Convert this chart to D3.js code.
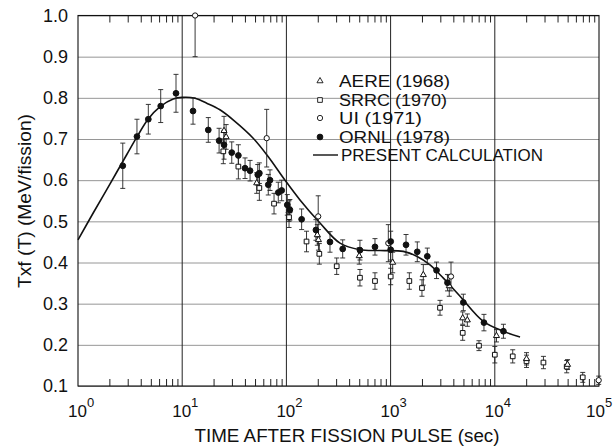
<!DOCTYPE html>
<html>
<head>
<meta charset="utf-8">
<script src="https://cdn.jsdelivr.net/npm/d3@7"></script>
<style>
  body { margin: 0; background: #fff; }
  text { font-family: "Liberation Sans", Arial, sans-serif; fill: #111; }
</style>
</head>
<body>
<svg id="chart" width="615" height="448"></svg>
<script>
// [time (s), Txf(T) MeV/fission, error]
var ornl = [
  [2.69, 0.635, 0.055], [3.68, 0.706, 0.042], [4.73, 0.748, 0.036], [6.22, 0.780, 0.040],
  [8.72, 0.811, 0.046], [12.7, 0.768, 0.032], [17.8, 0.722, 0.030], [22.6, 0.696, 0.030],
  [25.2, 0.686, 0.035], [29.9, 0.667, 0.026], [34.6, 0.660, 0.026], [40.1, 0.629, 0.025],
  [44.8, 0.623, 0.025], [53.1, 0.613, 0.025], [55.0, 0.617, 0.025], [67.0, 0.589, 0.025],
  [69.6, 0.600, 0.025], [83.6, 0.570, 0.025], [90.1, 0.575, 0.025], [102, 0.540, 0.025],
  [108, 0.528, 0.025], [140, 0.505, 0.025], [192, 0.479, 0.025], [262, 0.450, 0.025],
  [347, 0.433, 0.022], [508, 0.430, 0.024], [708, 0.438, 0.020], [1002, 0.451, 0.025],
  [1002, 0.431, 0.025], [1406, 0.443, 0.025], [1803, 0.426, 0.024], [2250, 0.415, 0.020],
  [2760, 0.381, 0.020], [3515, 0.351, 0.020], [4990, 0.303, 0.020], [7870, 0.254, 0.020],
  [12100, 0.233, 0.017]
];
var aere = [
  [25.2, 0.720, 0.035], [26.4, 0.705, 0.030], [51.9, 0.593, 0.025], [106, 0.525, 0.025],
  [198, 0.467, 0.025], [203, 0.455, 0.025], [500, 0.416, 0.020], [1047, 0.400, 0.025],
  [2060, 0.370, 0.025], [3656, 0.343, 0.025], [4920, 0.265, 0.015], [5450, 0.260, 0.015],
  [10380, 0.222, 0.015], [20150, 0.166, 0.015], [49900, 0.152, 0.012]
];
var srrc = [
  [24.8, 0.670, 0.030], [34.6, 0.633, 0.030], [55.0, 0.581, 0.030], [76.1, 0.543, 0.025],
  [106, 0.510, 0.025], [156, 0.451, 0.025], [207, 0.421, 0.025], [304, 0.391, 0.020],
  [508, 0.363, 0.020], [708, 0.355, 0.020], [1002, 0.366, 0.020], [1513, 0.355, 0.020],
  [2000, 0.338, 0.020], [2980, 0.290, 0.018], [4920, 0.229, 0.018], [7050, 0.198, 0.012],
  [10000, 0.176, 0.020], [14860, 0.172, 0.016], [20150, 0.160, 0.015], [29300, 0.157, 0.015],
  [49000, 0.147, 0.015], [69800, 0.121, 0.012]
];
var ui = [
  [13.3, 1.000, 0.100], [64.7, 0.702, 0.070], [202, 0.512, 0.050], [951, 0.447, 0.045],
  [3800, 0.366, 0.035], [99300, 0.114, 0.010]
];
// present calculation
var calcT = [1, 1.39, 2.03, 2.95, 3.68, 4.7, 6.1, 8.2, 10, 13.3, 17.2, 23, 31, 48, 67, 97, 135,
  210, 327, 508, 791, 1324, 1780, 2390, 3210, 4640, 7760, 12080, 17460];
var calcV = [0.455, 0.519, 0.591, 0.663, 0.705, 0.748, 0.778, 0.797, 0.801, 0.799, 0.787, 0.771, 0.746,
  0.702, 0.657, 0.60, 0.552, 0.496, 0.447, 0.431, 0.429, 0.427, 0.415, 0.394, 0.362, 0.318,
  0.257, 0.233, 0.219];
var yTicks = [0.1, 0.2, 0.3, 0.4, 0.5, 0.6, 0.7, 0.8, 0.9, 1.0];
var decades = [0, 1, 2, 3, 4, 5];
var legendLabels = ["AERE (1968)", "SRRC (1970)", "UI (1971)", "ORNL (1978)", "PRESENT CALCULATION"];

var svg = d3.select("#chart"),
    margin = {top: 15.5, right: 16, bottom: 62, left: 78},
    width = +svg.attr("width") - margin.left - margin.right,
    height = +svg.attr("height") - margin.top - margin.bottom;

var x = d3.scaleLog().domain([1, 1e5]).range([0, width]);
var y = d3.scaleLinear().domain([0.1, 1.0]).range([height, 0]).clamp(true);

var g = svg.append("g")
    .attr("transform", "translate(" + margin.left + "," + margin.top + ")");

// horizontal grid + y labels
var yAxis = g.append("g")
    .call(d3.axisLeft(y).tickValues(yTicks).tickSize(-width).tickPadding(10).tickFormat(d3.format(".1f")));
yAxis.select(".domain").remove();
yAxis.selectAll("line").attr("stroke", "#8a8a8a").attr("stroke-width", 0.9);
yAxis.selectAll("text").style("font-size", "18px").attr("fill", "#111");

// decade lines
g.selectAll(".decade")
    .data(decades.slice(1, 5))
    .enter().append("line")
    .attr("class", "decade")
    .attr("x1", function(d) { return x(Math.pow(10, d)); })
    .attr("x2", function(d) { return x(Math.pow(10, d)); })
    .attr("y1", 0).attr("y2", height)
    .attr("stroke", "#222").attr("stroke-width", 1);

// minor ticks top and bottom
var minors = x.ticks().filter(function(d) { return Math.abs(Math.log10(d) % 1) > 1e-6; });
var botAx = g.append("g").attr("transform", "translate(0," + height + ")")
    .call(d3.axisBottom(x).tickValues(minors).tickSize(-7).tickFormat(""));
var topAx = g.append("g")
    .call(d3.axisTop(x).tickValues(minors).tickSize(-7).tickFormat(""));
botAx.select(".domain").remove();
topAx.select(".domain").remove();
botAx.selectAll("line").attr("stroke", "#222");
topAx.selectAll("line").attr("stroke", "#222");

// frame
g.append("rect").attr("width", width).attr("height", height)
    .attr("fill", "none").attr("stroke", "#111").attr("stroke-width", 1.1);

// decade labels
var dl = g.selectAll(".dlab").data(decades).enter().append("text")
    .attr("x", function(d) { return x(Math.pow(10, d)) - (d == 5 ? 13 : 10); })
    .attr("y", height + 31)
    .style("font-size", "17px");
dl.append("tspan").text("10");
dl.append("tspan").attr("dy", -10).style("font-size", "13px").text(function(d) { return d; });

// calculation curve
var line = d3.line()
    .x(function(d, i) { return x(calcT[i]); })
    .y(function(d) { return y(d); })
    .curve(d3.curveCatmullRom);
g.append("path").datum(calcV)
    .attr("d", line)
    .attr("fill", "none").attr("stroke", "#111").attr("stroke-width", 1.6);

// error bars
function errBars(data) {
  var eb = g.append("g").selectAll("g").data(data).enter().append("g")
      .attr("stroke", "#222").attr("stroke-width", 0.9);
  eb.append("line")
      .attr("x1", function(d) { return x(d[0]); }).attr("x2", function(d) { return x(d[0]); })
      .attr("y1", function(d) { return y(d[1] - d[2]); }).attr("y2", function(d) { return y(d[1] + d[2]); });
  [-1, 1].forEach(function(s) {
    eb.append("line")
        .attr("x1", function(d) { return x(d[0]) - 2.5; }).attr("x2", function(d) { return x(d[0]) + 2.5; })
        .attr("y1", function(d) { return y(d[1] + s * d[2]); }).attr("y2", function(d) { return y(d[1] + s * d[2]); });
  });
}
errBars(srrc); errBars(aere); errBars(ui); errBars(ornl);

var sym = {
  aere: d3.symbol().type(d3.symbolTriangle).size(16),
  srrc: d3.symbol().type(d3.symbolSquare).size(22),
  ui: d3.symbol().type(d3.symbolCircle).size(22),
  ornl: d3.symbol().type(d3.symbolCircle).size(26)
};
function points(data, s, filled) {
  g.append("g").selectAll("path").data(data).enter().append("path")
      .attr("transform", function(d) { return "translate(" + x(d[0]) + "," + y(d[1]) + ")"; })
      .attr("d", s)
      .attr("fill", filled ? "#111" : "#fff")
      .attr("stroke", "#111").attr("stroke-width", 1);
}
points(srrc, sym.srrc, false);
points(aere, sym.aere, false);
points(ui, sym.ui, false);
points(ornl, sym.ornl, true);

// legend (text widths stretched to the lettering of the original)
var leg = svg.append("g").attr("transform", "translate(320,81)");
var legSym = [sym.aere, sym.srrc, sym.ui, sym.ornl];
var legRow = [0, 19, 37, 56, 74];
var legW = [111, 108, 83, 111, 202];
legendLabels.forEach(function(t, i) {
  var yy = legRow[i];
  if (i < 4) {
    leg.append("path").attr("transform", "translate(0," + yy + ")")
        .attr("d", legSym[i]).attr("fill", i == 3 ? "#111" : "#fff")
        .attr("stroke", "#111").attr("stroke-width", 0.9);
  } else {
    leg.append("line").attr("x1", -7).attr("x2", 18).attr("y1", yy).attr("y2", yy)
        .attr("stroke", "#111").attr("stroke-width", 1.4);
  }
  leg.append("text").attr("x", i < 4 ? 19 : 21).attr("y", yy + 6)
      .attr("textLength", legW[i]).attr("lengthAdjust", "spacingAndGlyphs")
      .style("font-size", "16px").text(t);
});

// axis titles
svg.append("text")
    .attr("x", 347).attr("y", 442)
    .attr("text-anchor", "middle").style("font-size", "18px")
    .attr("textLength", 305).attr("lengthAdjust", "spacingAndGlyphs")
    .text("TIME AFTER FISSION PULSE (sec)");
svg.append("text")
    .attr("transform", "translate(31,201) rotate(-90)")
    .attr("text-anchor", "middle").style("font-size", "18px")
    .attr("textLength", 174).attr("lengthAdjust", "spacingAndGlyphs")
    .text("Txf (T) (MeV/fission)");
</script>
</body>
</html>
